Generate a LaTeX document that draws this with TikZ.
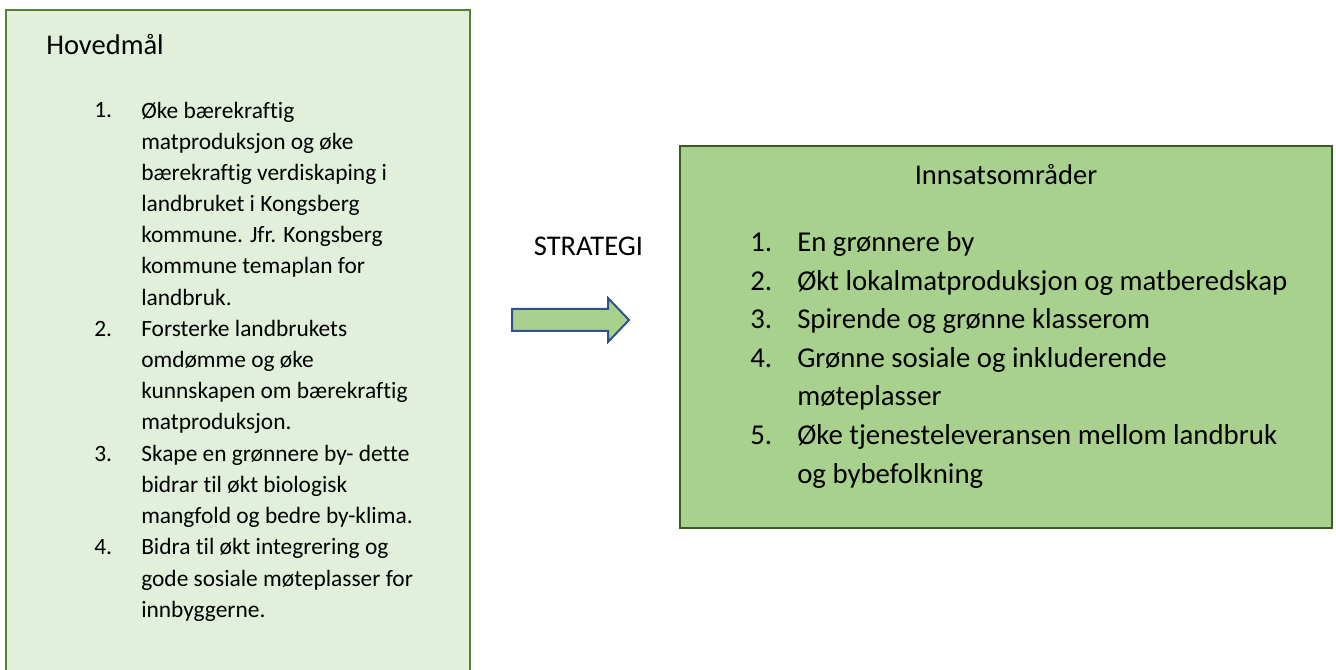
\documentclass[tikz,border=0pt]{standalone}
\usepackage{fontspec}
\setmainfont{Carlito}[Ligatures=NoCommon]
\definecolor{goalfill}{HTML}{E2EFDA}
\definecolor{goalborder}{HTML}{548235}
\definecolor{areafill}{HTML}{A9D18E}
\definecolor{areaborder}{HTML}{3A5A28}
\definecolor{arrowborder}{HTML}{2F528F}
\begin{document}
\begin{tikzpicture}[x=0.75pt,y=-0.75pt,
  lefttext/.style={anchor=base west, inner sep=0pt, align=left, font=\fontsize{17.55}{23.4}\selectfont},
  righttext/.style={anchor=base west, inner sep=0pt, align=left, font=\fontsize{21.6}{28.9}\selectfont},
  titletext/.style={inner sep=0pt, font=\fontsize{21.4}{26}\selectfont},
  goalbox/.style={draw=goalborder, fill=goalfill, line width=1.9pt},
  areabox/.style={draw=areaborder, fill=areafill, line width=1.9pt},
  blockarrow/.style={draw=arrowborder, fill=areafill, line width=1.5pt, line join=miter}]
\useasboundingbox (0,0) rectangle (1336,670);
\clip (0,0) rectangle (1336,670);
\fill[white] (0,0) rectangle (1336,670);
% left box (extends beyond bottom)
\path[goalbox] (6,700) rectangle (470,10);
% right box
\path[areabox] (680,146) rectangle (1332,528);
% arrow
\path[blockarrow] (512,309) -- (608,309) -- (608,298) -- (629,320) -- (608,342) -- (608,331) -- (512,331) -- cycle;

% (multi-line nodes are anchored at the baseline of their last line)
\node[titletext, anchor=base west] (hoved) at (46,55) {Hovedmål};
\node[lefttext] (gn1) at (94,118) {1.};
\node[lefttext] (gt1) at (141,305.2) {Øke bærekraftig\\matproduksjon og øke\\bærekraftig verdiskaping i\\landbruket i Kongsberg\\kommune. Jfr. Kongsberg\\kommune temaplan for\\landbruk.};
\node[lefttext] (gn2) at (94,336.4) {2.};
\node[lefttext] (gt2) at (141,430) {Forsterke landbrukets\\omdømme og øke\\kunnskapen om bærekraftig\\matproduksjon.};
\node[lefttext] (gn3) at (94,461.2) {3.};
\node[lefttext] (gt3) at (141,523.6) {Skape en grønnere by- dette\\bidrar til økt biologisk\\mangfold og bedre by-klima.};
\node[lefttext] (gn4) at (94,554.8) {4.};
\node[lefttext] (gt4) at (141,617.2) {Bidra til økt integrering og\\gode sosiale møteplasser for\\innbyggerne.};

\node[titletext, anchor=base] (strategi) at (588.5,256) {STRATEGI};

\node[titletext, anchor=base] (innsats) at (1006,185) {Innsatsområder};
\node[righttext] (an1) at (750,252) {1.};
\node[righttext] (at1) at (797,252) {En grønnere by};
\node[righttext] (an2) at (750,290.5) {2.};
\node[righttext] (at2) at (797,290.5) {Økt lokalmatproduksjon og matberedskap};
\node[righttext] (an3) at (750,329) {3.};
\node[righttext] (at3) at (797,329) {Spirende og grønne klasserom};
\node[righttext] (an4) at (750,367.5) {4.};
\node[righttext] (at4) at (797,406) {Grønne sosiale og inkluderende\\møteplasser};
\node[righttext] (an5) at (750,444.5) {5.};
\node[righttext] (at5) at (797,483) {Øke tjenesteleveransen mellom landbruk\\og bybefolkning};
\end{tikzpicture}
\end{document}
